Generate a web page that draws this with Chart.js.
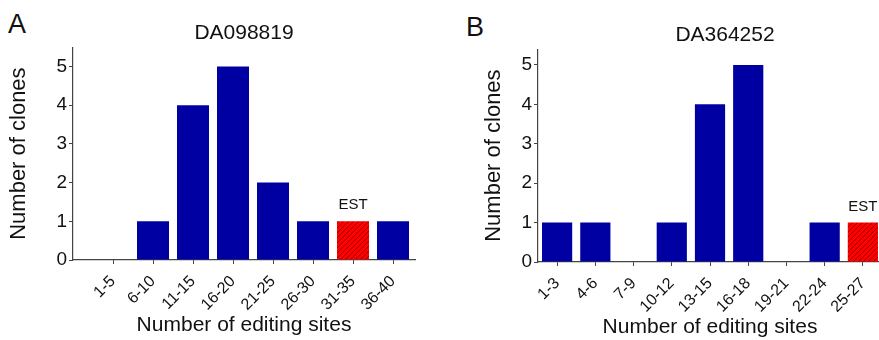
<!DOCTYPE html>
<html><head><meta charset="utf-8">
<script src="https://cdn.jsdelivr.net/npm/chart.js@4/dist/chart.umd.min.js"></script>
<style>
html,body{margin:0;padding:0;background:#fff;width:879px;height:340px;overflow:hidden;position:relative}
canvas{position:absolute;top:0}
.panel{position:absolute;font-family:"Liberation Sans",Arial,sans-serif;font-size:27px;line-height:27px;color:#111}
</style></head><body>
<div class="panel" style="left:8px;top:11px">A</div>
<div class="panel" style="left:466px;top:14px">B</div>
<canvas id="cA" width="440" height="340" style="left:0"></canvas>
<canvas id="cB" width="570" height="340" style="left:440px"></canvas>
<script>
// ---- data ----
const titleA = 'DA098819';
const categoriesA = ['1-5','6-10','11-15','16-20','21-25','26-30','31-35','36-40'];
const clonesA = [0, 1, 4, 5, 2, 1, 1, 1];
const estCategoryA = '31-35';

const titleB = 'DA364252';
const categoriesB = ['1-3','4-6','7-9','10-12','13-15','16-18','19-21','22-24','25-27'];
const clonesB = [1, 1, 0, 1, 4, 5, 0, 1, 1];
const estCategoryB = '25-27';

const yTickValues = [0, 1, 2, 3, 4, 5];
const xLabel = 'Number of editing sites';
const yLabel = 'Number of clones';
const estLabel = 'EST';

// ---- styles ----
const FONT = '"Liberation Sans", Arial, sans-serif';
const BLUE = '#0000a2';
const AXIS = '#444';
const TEXT = '#111';

function hatchPattern() {
  const c = document.createElement('canvas');
  c.width = 5; c.height = 5;
  const g = c.getContext('2d');
  g.fillStyle = '#ff0000'; g.fillRect(0, 0, 5, 5);
  g.strokeStyle = 'rgba(80,0,0,0.7)'; g.lineWidth = 0.8;
  g.beginPath();
  g.moveTo(0, 5); g.lineTo(5, 0);
  g.moveTo(-1, 1); g.lineTo(1, -1);
  g.moveTo(4, 6); g.lineTo(6, 4);
  g.stroke();
  return g.createPattern(c, 'repeat');
}
const HATCH = hatchPattern();

function buildYTicks(max) {
  const t = [];
  yTickValues.forEach(v => { t.push(v); if (v + 0.5 <= max + 1e-9) t.push(v + 0.5); });
  return t.map(v => ({ value: v }));
}

const estPlugin = {
  id: 'est',
  afterDatasetsDraw(chart, args, opts) {
    const bar = chart.getDatasetMeta(0).data[opts.index];
    if (!bar) return;
    const ctx = chart.ctx;
    ctx.save();
    ctx.font = '15px ' + FONT;
    ctx.fillStyle = TEXT;
    ctx.textAlign = 'center';
    ctx.textBaseline = 'alphabetic';
    ctx.fillText(opts.text, bar.x, bar.y - 12);
    ctx.restore();
  }
};

function yScale(max, width, titlePadTop) {
  return {
    min: 0, max: max,
    afterBuildTicks: s => { s.ticks = buildYTicks(max); },
    afterFit: s => { s.width = width; },
    grid: { display: true, drawOnChartArea: false, drawTicks: true, tickLength: 4, color: AXIS, lineWidth: 1 },
    border: { display: true, color: AXIS, width: 1.2 },
    ticks: { padding: 2, font: { family: FONT, size: 19 }, color: TEXT,
      callback: v => yTickValues.includes(v) ? String(v) : '' },
    title: { display: true, text: yLabel, font: { family: FONT, size: 22 }, color: TEXT,
      padding: { top: titlePadTop, bottom: 0 } }
  };
}

function xCommon(height, titlePadBottom) {
  return {
    afterFit: s => { s.height = height; },
    offset: true,
    grid: { display: true, offset: false, drawOnChartArea: false, drawTicks: true, tickLength: 4, color: AXIS, lineWidth: 1 },
    border: { display: true, color: AXIS, width: 1.2 },
    ticks: { autoSkip: false, minRotation: 45, maxRotation: 45, padding: 8,
      font: { family: FONT, size: 16 }, color: TEXT },
    title: { display: true, text: xLabel, font: { family: FONT, size: 21 }, color: TEXT,
      padding: { top: 0, bottom: titlePadBottom } }
  };
}

// ---- Chart A ----
const xA = xCommon(80, 2);
xA.type = 'linear';
xA.offset = false;
xA.min = 0; xA.max = 8.55;
xA.afterBuildTicks = s => { s.ticks = categoriesA.map((c, i) => ({ value: i + 1 })); };
xA.ticks.callback = v => categoriesA[v - 1];

new Chart(document.getElementById('cA'), {
  type: 'bar',
  data: {
    datasets: [{
      data: categoriesA.map((c, i) => ({ x: i + 1, y: clonesA[i] })),
      backgroundColor: ctx => categoriesA[ctx.dataIndex] === estCategoryA ? HATCH : BLUE,
      borderWidth: 0,
      categoryPercentage: 1, barPercentage: 0.8
    }]
  },
  plugins: [estPlugin],
  options: {
    responsive: false, animation: false, events: [], devicePixelRatio: 1,
    layout: { padding: { left: 0, right: 25, top: 0, bottom: 0 } },
    plugins: {
      legend: { display: false }, tooltip: { enabled: false },
      title: { display: true, text: titleA, fullSize: false, font: { family: FONT, size: 21, weight: 'normal' },
        color: TEXT, padding: { top: 21, bottom: 1 } },
      est: { index: categoriesA.indexOf(estCategoryA), text: estLabel }
    },
    scales: { x: xA, y: yScale(5.5, 73, 6) }
  }
});

// ---- Chart B ----
const xB = xCommon(78, 0);
xB.type = 'category';

new Chart(document.getElementById('cB'), {
  type: 'bar',
  data: {
    labels: categoriesB,
    datasets: [{
      data: clonesB,
      backgroundColor: ctx => categoriesB[ctx.dataIndex] === estCategoryB ? HATCH : BLUE,
      borderWidth: 0,
      categoryPercentage: 1, barPercentage: 0.79
    }]
  },
  plugins: [estPlugin],
  options: {
    responsive: false, animation: false, events: [], devicePixelRatio: 1,
    layout: { padding: 0 },
    plugins: {
      legend: { display: false }, tooltip: { enabled: false },
      title: { display: true, text: titleB, fullSize: true, font: { family: FONT, size: 21, weight: 'normal' },
        color: TEXT, padding: { top: 23, bottom: 1 } },
      est: { index: categoriesB.indexOf(estCategoryB), text: estLabel }
    },
    scales: {
      x: xB,
      y: yScale(5.4, 98, 41),
      y2: { position: 'right', display: true, grid: { display: false }, border: { display: false },
        ticks: { display: false }, afterFit: s => { s.width = 128; } }
    }
  }
});
</script>
</body></html>
